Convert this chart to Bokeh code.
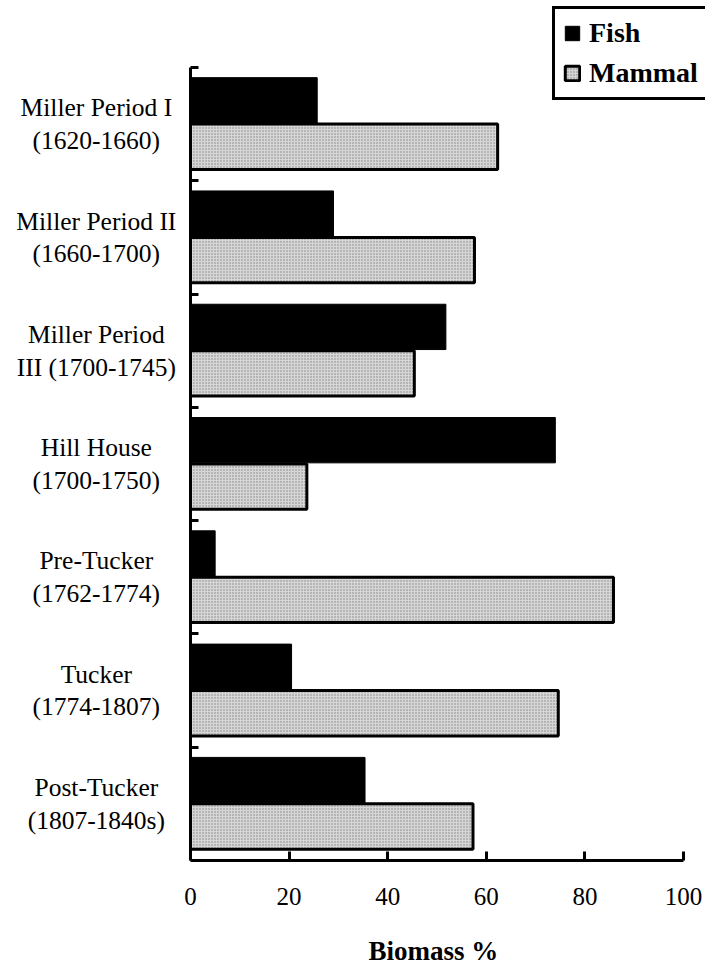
from bokeh.plotting import figure
from bokeh.models import ColumnDataSource, Range1d, FixedTicker, Title
from bokeh.core.properties import value
from bokeh.embed import file_html
from bokeh.resources import INLINE

# ---- data ----
periods = [
    "Miller Period I\n(1620-1660)",
    "Miller Period II\n(1660-1700)",
    "Miller Period\nIII (1700-1745)",
    "Hill House\n(1700-1750)",
    "Pre-Tucker\n(1762-1774)",
    "Tucker\n(1774-1807)",
    "Post-Tucker\n(1807-1840s)",
]
fish = [25.7, 29.0, 51.8, 74.0, 5.0, 20.5, 35.4]
mammal = [62.3, 57.6, 45.4, 23.6, 85.8, 74.6, 57.3]
x_ticks = [0, 20, 40, 60, 80, 100]
x_title = "Biomass %"
series_names = ["Fish", "Mammal"]

FONT = "Liberation Serif"

n = len(periods)
centers = [n - i - 0.5 for i in range(n)]
boundaries = list(range(n + 1))

src = ColumnDataSource(dict(
    y_fish=[c + 0.21 for c in centers],
    y_mammal=[c - 0.20 for c in centers],
    fish=fish,
    mammal=mammal,
))
lab_src = ColumnDataSource(dict(y=centers, text=periods, x=[-19.1] * n))

W, H = 705, 1005
BOTTOM = 145
p = figure(width=W, height=H, output_backend="svg", toolbar_location=None,
           x_range=Range1d(-38.54, 104.46), y_range=Range1d(0, 7.591),
           min_border_left=0, min_border_right=0, min_border_top=0,
           min_border_bottom=BOTTOM)
p.outline_line_color = None
p.xgrid.visible = False
p.ygrid.visible = False
p.background_fill_color = "white"
p.border_fill_color = "white"

p.hbar(y="y_fish", right="fish", left=0, height=0.40, source=src,
       fill_color="black", line_color="black", line_width=1,
       legend_label=series_names[0])
p.hbar(y="y_mammal", right="mammal", left=0, height=0.40, source=src,
       fill_color="#d6d6d6", hatch_pattern="dot", hatch_color="#7a7a7a",
       hatch_scale=3, hatch_weight=1, hatch_alpha=0.9,
       line_color="black", line_width=3,
       legend_label=series_names[1])

# category labels (centred lines, as in the reference)
p.text(x="x", y="y", text="text", source=lab_src,
       text_align="center", text_baseline="middle",
       text_font=value(FONT), text_font_size="25.5px", text_color="black",
       text_line_height=1.13)

# x axis
xa = p.xaxis[0]
xa.ticker = FixedTicker(ticks=x_ticks)
xa.bounds = (0, 100)
xa.axis_line_width = 3
xa.axis_line_color = "black"
xa.major_tick_in = 9
xa.major_tick_out = 0
xa.major_tick_line_width = 3
xa.minor_tick_line_color = None
xa.major_label_text_font = FONT
xa.major_label_text_font_size = "25px"
xa.major_label_text_color = "black"
xa.major_label_standoff = 27

# x-axis title, centred under the drawn axis (0..100) rather than the frame
xt = Title(text=x_title, align="left", offset=368, standoff=52,
           text_font=FONT, text_font_style="bold", text_font_size="27px",
           text_color="black")
p.add_layout(xt, "below")

# y axis, drawn at x = 0 inside the frame; ticks at the group boundaries
ya = p.yaxis[0]
ya.fixed_location = 0
ya.ticker = FixedTicker(ticks=[], minor_ticks=boundaries)
ya.bounds = (0, n)
ya.axis_line_width = 3
ya.axis_line_color = "black"
ya.major_tick_line_color = None
ya.minor_tick_in = 8
ya.minor_tick_out = 0
ya.minor_tick_line_width = 3
ya.minor_tick_line_color = "black"

# legend
lg = p.legend[0]
lg.location = (552, 760)
lg.border_line_color = "black"
lg.border_line_alpha = 1.0
lg.border_line_width = 3
lg.background_fill_color = "white"
lg.background_fill_alpha = 1
lg.label_text_font = FONT
lg.label_text_font_style = "bold"
lg.label_text_font_size = "28px"
lg.label_text_color = "black"
lg.glyph_width = 18
lg.glyph_height = 18
lg.label_standoff = 8
lg.padding = 8
lg.spacing = 8
lg.margin = 0

open("out.html", "w").write(file_html(p, INLINE))
